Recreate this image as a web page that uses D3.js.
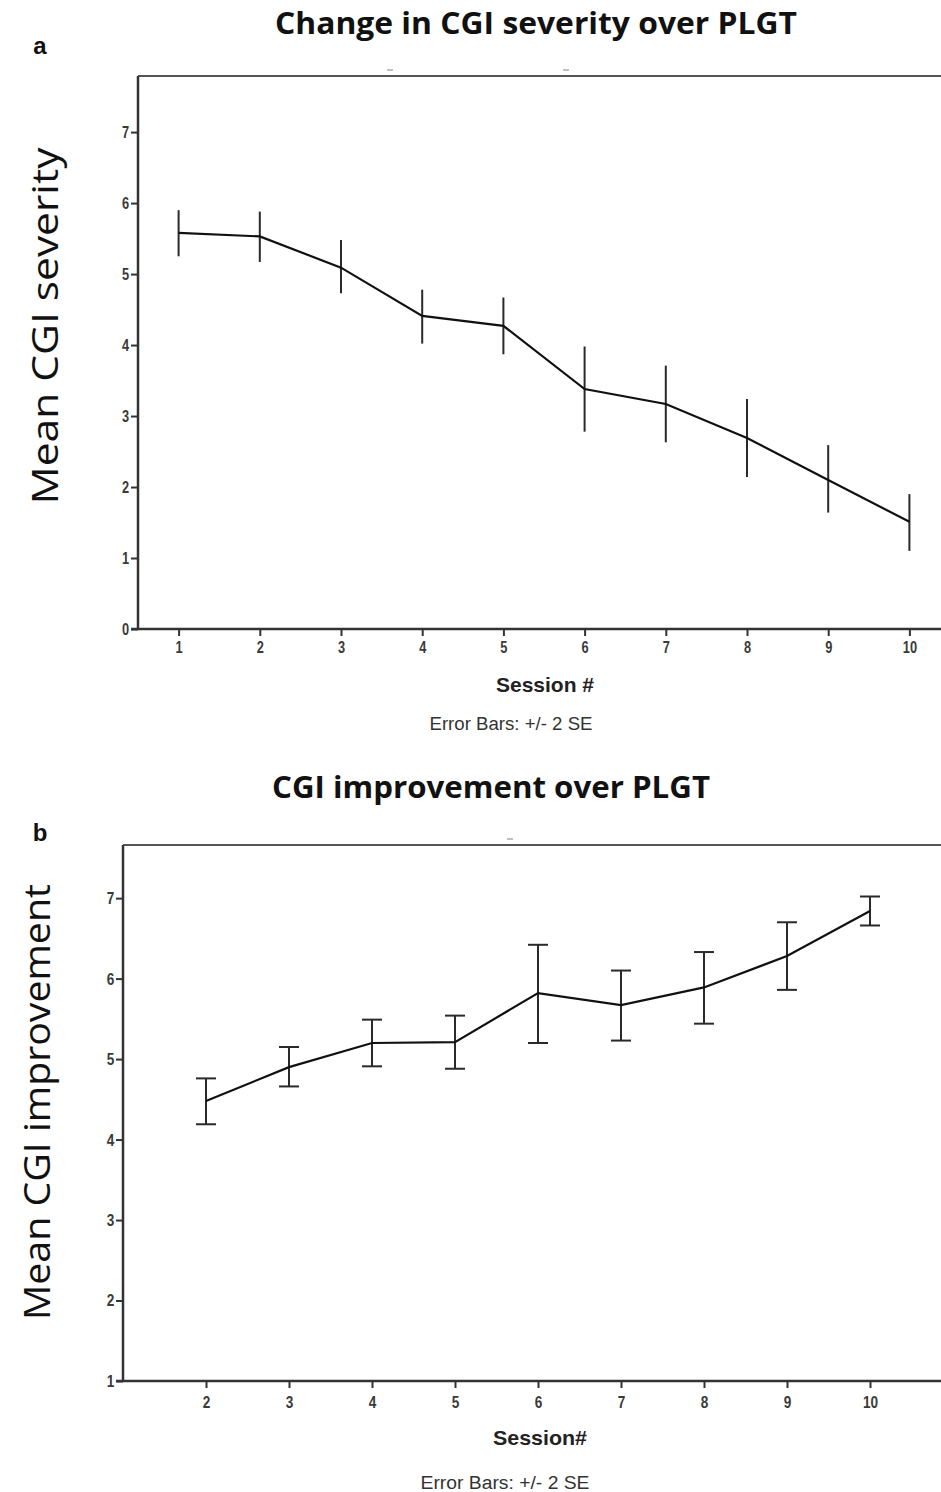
<!DOCTYPE html>
<html>
<head>
<meta charset="utf-8">
<script src="https://cdn.jsdelivr.net/npm/d3@7"></script>
<style>
  body { margin: 0; background: #fff; }
  svg { display: block; }
  .tick text { font-family: "Liberation Sans", Arial, sans-serif; font-weight: bold; fill: #3a3a3a; }
</style>
</head>
<body>
<div id="chart"></div>
<script>
// panel a: CGI severity, sessions 1-10
var sessionsA = [1, 2, 3, 4, 5, 6, 7, 8, 9, 10];
var severityMean = [5.58, 5.53, 5.09, 4.41, 4.27, 3.38, 3.17, 2.69, 2.10, 1.51];
var severityLow  = [5.25, 5.17, 4.73, 4.02, 3.87, 2.78, 2.63, 2.14, 1.64, 1.10];
var severityHigh = [5.90, 5.88, 5.48, 4.78, 4.67, 3.98, 3.71, 3.24, 2.59, 1.90];
var yTicksA = [0, 1, 2, 3, 4, 5, 6, 7];

// panel b: CGI improvement, sessions 2-10
var sessionsB = [2, 3, 4, 5, 6, 7, 8, 9, 10];
var improveMean = [4.48, 4.90, 5.20, 5.21, 5.82, 5.67, 5.89, 6.28, 6.84];
var improveLow  = [4.19, 4.66, 4.91, 4.88, 5.20, 5.23, 5.44, 5.86, 6.66];
var improveHigh = [4.76, 5.15, 5.49, 5.54, 6.42, 6.10, 6.33, 6.70, 7.02];
var yTicksB = [1, 2, 3, 4, 5, 6, 7];

var width = 941, height = 1492;
var narrowFont = "'Liberation Sans Narrow', 'Liberation Sans', Arial, sans-serif";

var svg = d3.select("#chart").append("svg")
  .attr("width", width)
  .attr("height", height);

function drawPanel(p) {
  var x = d3.scaleLinear().domain(p.xDomain).range(p.xRange);
  var y = d3.scaleLinear().domain(p.yDomain).range(p.yRange);
  var g = svg.append("g");

  // frame (right side runs off the picture)
  g.append("line")
    .attr("x1", p.xRange[0]).attr("x2", width + 5)
    .attr("y1", p.yRange[1]).attr("y2", p.yRange[1])
    .attr("stroke", "#555").attr("stroke-width", 2);

  // stray marks above the frame
  p.marks.forEach(function (m) {
    g.append("line")
      .attr("x1", m - 3).attr("x2", m + 3)
      .attr("y1", p.yRange[1] - 6).attr("y2", p.yRange[1] - 6)
      .attr("stroke", "#aaa").attr("stroke-width", 1.5);
  });

  var yAxis = d3.axisLeft(y).tickValues(p.yTicks).tickFormat(d3.format("d"))
    .tickSize(7).tickPadding(4);
  var xAxis = d3.axisBottom(x).tickValues(p.sessions).tickFormat(d3.format("d"))
    .tickSize(7).tickPadding(p.xPad);

  var ya = g.append("g")
    .attr("transform", "translate(" + p.xRange[0] + ",0)")
    .call(yAxis);
  var xa = g.append("g")
    .attr("transform", "translate(0," + p.yRange[0] + ")")
    .call(xAxis);

  ya.select(".domain").attr("d", "M0," + p.yRange[0] + "V" + p.yRange[1]);
  xa.select(".domain").attr("d", "M" + (p.xRange[0] - 7) + ",0H" + (width + 5));
  [ya, xa].forEach(function (a) {
    a.select(".domain").attr("stroke", "#333").attr("stroke-width", 2.5);
    a.selectAll(".tick line").attr("stroke", "#333").attr("stroke-width", 2);
    // squeeze the digits to look like a narrow face
    a.selectAll(".tick text").style("font-size", p.tickFont + "px")
      .attr("transform", "scale(0.8,1)");
  });

  // error bars
  var bars = g.append("g");
  p.sessions.forEach(function (s, i) {
    bars.append("line")
      .attr("x1", x(s)).attr("x2", x(s))
      .attr("y1", y(p.low[i])).attr("y2", y(p.high[i]))
      .attr("stroke", "#2a2a2a").attr("stroke-width", 2);
    if (p.caps) {
      [p.low[i], p.high[i]].forEach(function (v) {
        bars.append("line")
          .attr("x1", x(s) - 10).attr("x2", x(s) + 10)
          .attr("y1", y(v)).attr("y2", y(v))
          .attr("stroke", "#2a2a2a").attr("stroke-width", 2);
      });
    }
  });

  var line = d3.line()
    .x(function (d, i) { return x(p.sessions[i]); })
    .y(function (d) { return y(d); });
  g.append("path")
    .datum(p.mean)
    .attr("d", line)
    .attr("fill", "none")
    .attr("stroke", "#111")
    .attr("stroke-width", 2.2);

  // texts
  g.append("text")
    .attr("x", p.titleX).attr("y", p.titleY)
    .attr("text-anchor", "middle")
    .attr("textLength", p.titleLen).attr("lengthAdjust", "spacingAndGlyphs")
    .style("font-family", "'Open Sans', 'Noto Sans', sans-serif")
    .style("font-weight", "bold").style("font-size", "31px").style("fill", "#111")
    .text(p.title);

  g.append("text")
    .attr("x", 40).attr("y", p.letterY)
    .attr("text-anchor", "middle")
    .style("font-family", "'Liberation Sans', Arial, sans-serif")
    .style("font-weight", "bold").style("font-size", "24px").style("fill", "#111")
    .text(p.letter);

  g.append("text")
    .attr("transform", "translate(" + p.yLabelX + "," + p.yLabelY + ") rotate(-90)")
    .attr("text-anchor", "middle")
    .attr("textLength", p.yLabelLen).attr("lengthAdjust", "spacingAndGlyphs")
    .style("font-family", "'Open Sans', 'Noto Sans', sans-serif")
    .style("font-size", "37px").style("fill", "#111")
    .text(p.yLabel);

  g.append("text")
    .attr("x", p.xLabelX).attr("y", p.xLabelY)
    .attr("text-anchor", "middle")
    .attr("textLength", p.xLabelLen).attr("lengthAdjust", "spacingAndGlyphs")
    .style("font-family", narrowFont)
    .style("font-weight", "bold").style("font-size", "21px").style("fill", "#222")
    .text(p.xLabel);

  g.append("text")
    .attr("x", p.noteX).attr("y", p.noteY)
    .attr("text-anchor", "middle")
    .attr("textLength", p.noteLen).attr("lengthAdjust", "spacingAndGlyphs")
    .style("font-family", narrowFont)
    .style("font-size", "18px").style("fill", "#333")
    .text("Error Bars: +/- 2 SE");
}

drawPanel({
  sessions: sessionsA, mean: severityMean, low: severityLow, high: severityHigh,
  yTicks: yTicksA, caps: false, tickFont: 16, xPad: 6,
  xDomain: [0.5, 10.5], xRange: [138, 950],
  yDomain: [0, 7.79], yRange: [629, 76],
  marks: [390, 566],
  title: "Change in CGI severity over PLGT", titleX: 536, titleY: 34, titleLen: 522,
  letter: "a", letterY: 54,
  yLabel: "Mean CGI severity", yLabelX: 58, yLabelY: 326, yLabelLen: 357,
  xLabel: "Session #", xLabelX: 545, xLabelY: 692, xLabelLen: 98,
  noteX: 511, noteY: 730, noteLen: 163
});

drawPanel({
  sessions: sessionsB, mean: improveMean, low: improveLow, high: improveHigh,
  yTicks: yTicksB, caps: true, tickFont: 17, xPad: 8,
  xDomain: [1, 11], xRange: [123, 953],
  yDomain: [1, 7.66], yRange: [1381, 845],
  marks: [510],
  title: "CGI improvement over PLGT", titleX: 491, titleY: 798, titleLen: 438,
  letter: "b", letterY: 841,
  yLabel: "Mean CGI improvement", yLabelX: 50, yLabelY: 1102, yLabelLen: 436,
  xLabel: "Session#", xLabelX: 540, xLabelY: 1445, xLabelLen: 94,
  noteX: 505, noteY: 1489, noteLen: 169
});
</script>
</body>
</html>
